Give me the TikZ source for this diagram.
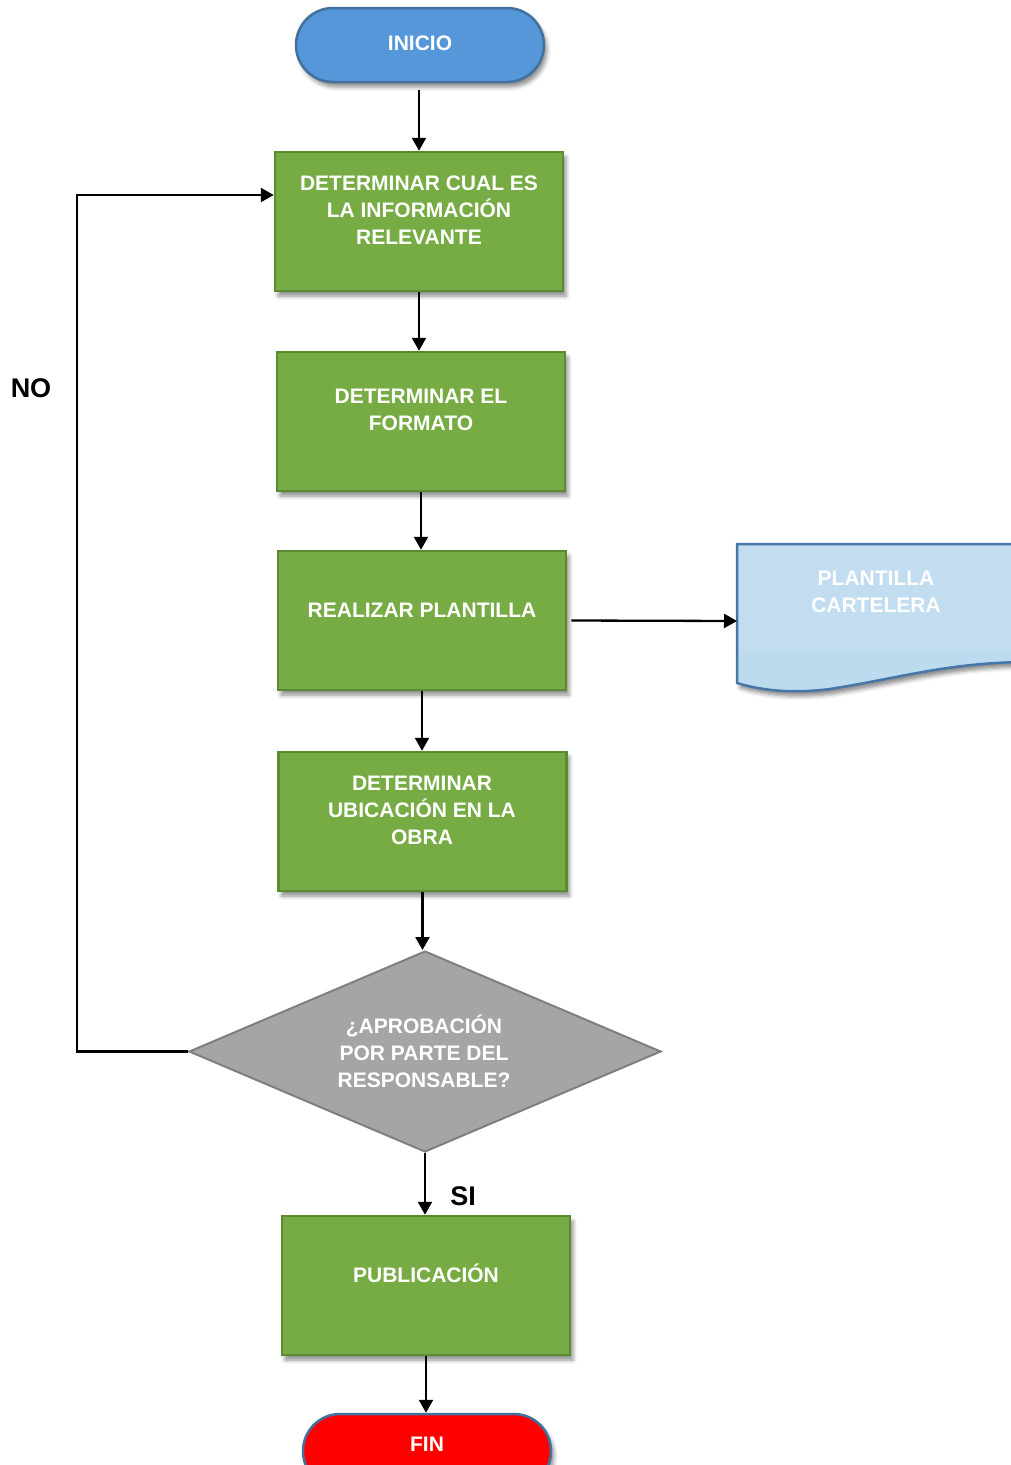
\documentclass[tikz,border=0pt]{standalone}
\usepackage{fontspec}
\setmainfont{Liberation Sans}
\usetikzlibrary{arrows.meta,shapes.geometric,shadows.blur,calc}

\definecolor{stepgreen}{HTML}{77AB43}
\definecolor{stepgreenedge}{HTML}{5A8A32}
\definecolor{startblue}{HTML}{5597D8}
\definecolor{edgeblue}{HTML}{41719C}
\definecolor{docblue}{HTML}{BDDBEE}
\definecolor{docedge}{HTML}{4677A8}
\definecolor{decgray}{HTML}{A5A5A5}
\definecolor{decedge}{HTML}{7F7F7F}
\definecolor{endred}{HTML}{FF0000}

\tikzset{
  boxshadow/.style={blur shadow={shadow xshift=3pt, shadow yshift=-5pt,
      shadow blur radius=4pt, shadow opacity=45}},
  stepbox/.style={draw=stepgreenedge, fill=stepgreen, line width=2.5pt,
      minimum width=288pt, minimum height=139pt, inner sep=0pt, boxshadow},
  terminal/.style={draw=edgeblue, line width=2.5pt, minimum width=248pt,
      minimum height=74pt, rounded corners=37pt, inner sep=0pt, boxshadow},
  decision/.style={diamond, draw=decedge, fill=decgray, line width=2pt,
      minimum width=472pt, minimum height=201pt, inner sep=0pt},
  boxtext/.style={text=white, font=\fontsize{21}{27}\selectfont\bfseries,
      align=center, inner sep=0pt},
  conn/.style={draw=black, line width=2.3pt,
      -{Triangle[length=13pt,width=14pt]}},
  sidelabel/.style={font=\fontsize{27}{32}\selectfont\bfseries, text=black},
}

\begin{document}
\begin{tikzpicture}[x=1pt, y=-1pt]
  \useasboundingbox (0,0) rectangle (1011,1465);

  % terminals
  \node[terminal, fill=startblue] (inicio) at (420,45) {};
  \node[boxtext] (tinicio) at (420,43) {INICIO};
  \node[terminal, fill=endred] (fin) at (427,1451) {};
  \node[boxtext] (tfin) at (427,1444) {FIN};

  % process steps
  \node[stepbox] (b1) at (419,221.5) {};
  \node[boxtext] (t1) at (419,210) {DETERMINAR CUAL ES\\LA INFORMACIÓN\\RELEVANTE};
  \node[stepbox] (b2) at (421,421.5) {};
  \node[boxtext] (t2) at (421,410) {DETERMINAR EL\\FORMATO};
  \node[stepbox] (b3) at (422,620.5) {};
  \node[boxtext] (t3) at (422,610) {REALIZAR PLANTILLA};
  \node[stepbox] (b4) at (422.5,821.5) {};
  \node[boxtext] (t4) at (422,810) {DETERMINAR\\UBICACIÓN EN LA\\OBRA};
  \node[stepbox] (b5) at (426,1285.5) {};
  \node[boxtext] (t5) at (426,1273) {PUBLICACIÓN};

  % decision
  \node[decision] (dec) at (425,1051.5) {};
  \node[boxtext] (tdec) at (424,1051) {¿APROBACIÓN\\POR PARTE DEL\\RESPONSABLE?};

  % document output
  \path[draw=docedge, fill=docblue, line width=2.5pt, boxshadow]
    (737,544) -- (1030,544) -- (1030,662)
    .. controls (950,662) and (900,678) .. (830,689)
    .. controls (790,694) and (760,690) .. (737,683) -- cycle;
  \fill[white, opacity=0.08] (738.5,545.5) rectangle (1028,652);
  \coordinate (docL) at (737,621);
  \node[boxtext] (tdoc) at (876,592) {PLANTILLA\\CARTELERA};

  % main flow
  \draw[conn] (b1.north |- 0,90) -- (b1.north);
  \draw[conn] (b1.south) -- (b1.south |- b2.north);
  \draw[conn] (b2.south) -- (b2.south |- b3.north);
  \draw[conn] (b3.south) -- (b3.south |- b4.north);
  \draw[conn] (b4.south) -- (b4.south |- dec.north);
  \draw[conn] (dec.south) -- (dec.south |- b5.north);
  \draw[conn] (b5.south) -- (b5.south |- fin.north);
  \draw[conn] (b3.east) ++(4,0) -- (docL);

  % rejection loop
  \coordinate (loopTop) at (77,195);
  \draw[conn] (dec.west) -- (77,1051.5) -- (loopTop) -- (b1.west |- loopTop);

  \node[sidelabel] (no) at (31,388) {NO};
  \node[sidelabel] (si) at (463,1196) {SI};
\end{tikzpicture}
\end{document}
